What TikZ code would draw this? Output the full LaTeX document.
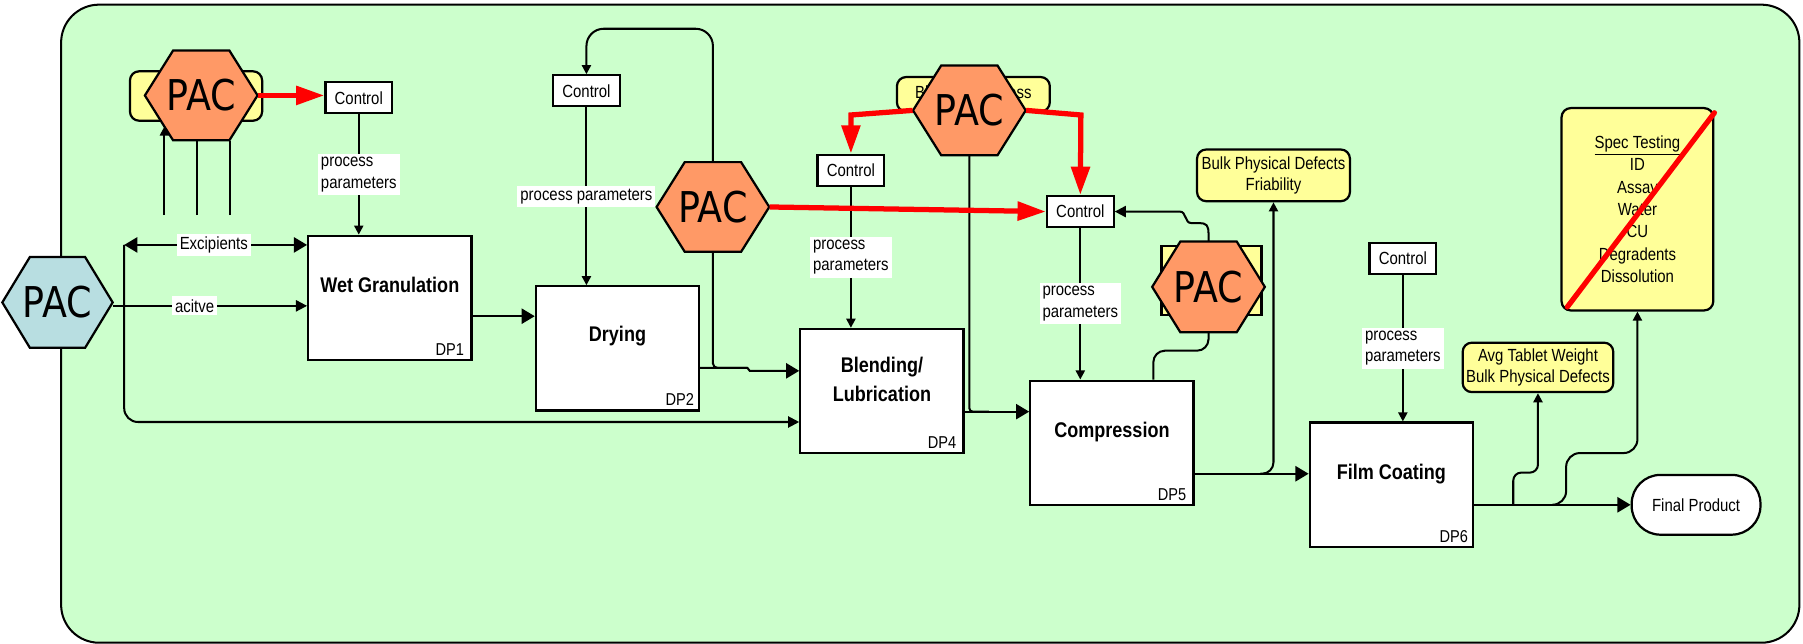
\documentclass[tikz,border=0pt]{standalone}
\usepackage{fontspec}
\setmainfont{Liberation Sans}[FakeStretch=0.85]
\newfontfamily\pacfont{DejaVu Sans}[FakeStretch=0.86]
\usetikzlibrary{arrows.meta,calc}

\definecolor{bggreen}{HTML}{CCFFCC}
\definecolor{pacorange}{HTML}{FF9966}
\definecolor{pacblue}{HTML}{B8DEE1}
\definecolor{noteyellow}{HTML}{FFFF99}

\tikzset{
  bigtip/.tip={Triangle[length=6.5pt,width=7.5pt]},
  midtip/.tip={Triangle[length=5.5pt,width=5.5pt]},
  smalltip/.tip={Triangle[length=4.5pt,width=4.5pt]},
  conn/.style={draw=black, line width=1pt},
  frame/.style={draw, line width=1pt, fill=bggreen, rounded corners=0.66cm,
    minimum width=30.24cm, minimum height=11.1cm, inner sep=0pt},
  ctrl/.style={draw, line width=1.1pt, fill=white, minimum width=1.16cm,
    minimum height=0.54cm, inner sep=0pt, font=\fontsize{8.7}{10.5}\selectfont},
  procbox/.style={draw, line width=1.1pt, fill=white, minimum width=2.84cm,
    minimum height=2.16cm, inner sep=0pt},
  proctext/.style={font=\bfseries\fontsize{10.5}{14.8}\selectfont, align=center, inner sep=0pt},
  dptext/.style={font=\fontsize{8.5}{10}\selectfont, anchor=base east, inner sep=0pt},
  lbl/.style={fill=white, inner sep=1.5pt, font=\fontsize{8.7}{10.7}\selectfont, align=left},
  note/.style={draw, line width=1.1pt, fill=noteyellow, rounded corners=0.16cm,
    align=center, inner sep=0pt, font=\fontsize{8.7}{10.5}\selectfont},
  pacnode/.style={inner sep=0pt, font=\pacfont\fontsize{21}{21}\selectfont},
  pacarrow/.style={draw=red, line width=2.6pt, -{Triangle[length=14pt,width=9pt]}},
}

% flat-topped hexagon with a PAC label: name, x, y, half width, half height, fill
\newcommand\pachexagon[6]{%
  \filldraw[line width=1.1pt, fill=#6]
    (#2-#4,#3) -- (#2-#4/2,#3+#5) -- (#2+#4/2,#3+#5) -- (#2+#4,#3)
    -- (#2+#4/2,#3-#5) -- (#2-#4/2,#3-#5) -- cycle;
  \pgfmathsetmacro\hexw{0.04*#4}%
  \pgfmathsetmacro\hexh{0.04*#5}%
  \node[pacnode, minimum width=\hexw cm, minimum height=\hexh cm] (#1) at (#2,#3) {PAC};
}

\begin{document}
\begin{tikzpicture}[x=0.02cm, y=-0.02cm]
\useasboundingbox (0,0) rectangle (1568,560);

% process area
\node[frame] (frame) at (809,281.5) {};

% notes sitting behind the PAC hexagons
\node[note, minimum width=2.3cm, minimum height=0.86cm] (n1) at (170.5,83.5) {};
\node[note, minimum width=2.66cm, minimum height=0.6cm] (n3) at (846.5,82) {Blending Process};
\node[note, rounded corners=0pt, minimum width=1.74cm, minimum height=1.2cm] (n4) at (1053.5,244) {};

% PAC hexagons
\pachexagon{pac0}{50}{263}{48}{39.5}{pacblue}
\pachexagon{pac1}{175}{83}{49}{39}{pacorange}
\pachexagon{pac2}{620}{180}{49}{39}{pacorange}
\pachexagon{pac3}{843}{96}{49}{39}{pacorange}
\pachexagon{pac4}{1051}{249.5}{49}{39.5}{pacorange}

% control boxes
\node[ctrl] (c1) at (312,85) {Control};
\node[ctrl] (c2) at (510,79) {Control};
\node[ctrl] (c3) at (740,148) {Control};
\node[ctrl] (c4) at (939.5,184) {Control};
\node[ctrl] (c5) at (1220,224.5) {Control};

% unit operations
\node[procbox] (wg) at (339,259) {};
\node[procbox] (dry) at (537,303) {};
\node[procbox] (blend) at (767,340) {};
\node[procbox] (comp) at (967,385) {};
\node[procbox] (film) at (1210,421.5) {};

\node[proctext] (wgt) at (339,248) {Wet Granulation};
\node[proctext] (dryt) at (537,292) {Drying};
\node[proctext] (blendt) at (767,330) {Blending/\\Lubrication};
\node[proctext] (compt) at (967,376) {Compression};
\node[proctext] (filmt) at (1210,412) {Film Coating};

\node[dptext] (dp1) at ($(wg.south east)+(-7,-5)$) {DP1};
\node[dptext] (dp2) at ($(dry.south east)+(-5,-5)$) {DP2};
\node[dptext] (dp4) at ($(blend.south east)+(-7,-5)$) {DP4};
\node[dptext] (dp5) at ($(comp.south east)+(-7,-5)$) {DP5};
\node[dptext] (dp6) at ($(film.south east)+(-5,-5)$) {DP6};

% measured attributes and product
\node[note, minimum width=2.66cm, minimum height=0.9cm] (bpd) at (1107.5,152.5)
  {Bulk Physical Defects\\Friability};
\node[note, minimum width=2.62cm, minimum height=0.86cm] (avg) at (1337.5,319.5)
  {Avg Tablet Weight\\Bulk Physical Defects};
\node[note, minimum width=2.64cm, minimum height=3.52cm, font=\fontsize{8.7}{11.1}\selectfont]
  (spec) at (1424,182)
  {\underline{Spec Testing}\\ID\\Assay\\Water\\CU\\Degradents\\Dissolution};
\node[draw, line width=1.1pt, fill=white, rounded corners=0.5cm, minimum width=2.24cm,
  minimum height=1.04cm, inner sep=0pt, font=\fontsize{8.7}{10.5}\selectfont]
  (final) at (1475,439) {Final Product};

% helper points for connector routes
\coordinate (exTop) at (108,213);
\coordinate (exBot) at (108,367);
\coordinate (e1) at (143,187);
\coordinate (e2) at (171,187);
\coordinate (e3) at (200,187);
\coordinate (p1edge) at (143,110);
\coordinate (act) at (0,266);
\coordinate (wd) at (0,275);
\coordinate (top) at (0,25);
\coordinate (db1) at (650,320);
\coordinate (db2) at (652,322.5);
\coordinate (r3l) at (740,100);
\coordinate (r3r) at (940,100);
\coordinate (bcj) at (860,358);
\coordinate (k1) at (1003,305);
\coordinate (k2) at (1036,194);
\coordinate (k3) at (1026,184);
\coordinate (cf) at (0,412);
\coordinate (cfj) at (1096,412);
\coordinate (ff) at (0,439);
\coordinate (fa) at (1316,439);
\coordinate (fa2) at (1316,411);
\coordinate (fs) at (1350,439);
\coordinate (fs2) at (1362,394);

% raw material feeds
\draw[conn, -{smalltip}] (e1) -- (p1edge);
\draw[conn] (e2) -- (e2 |- pac1.south);
\draw[conn] (e3) -- (e3 |- pac1.south);
\draw[conn, {bigtip}-{bigtip}] (exTop) -- node[lbl, pos=0.49] (exl) {Excipients} (exTop -| wg.west);
\draw[conn, rounded corners=0.24cm, -{midtip}] (exTop) -- (exBot) -- (exBot -| blend.west);
\draw[conn, -{midtip}] (pac0.east |- act) -- node[lbl, pos=0.42] (actl) {acitve} (act -| wg.west);

% main process flow
\draw[conn, -{bigtip}] (wd -| wg.east) -- (wd -| dry.west);
\draw[conn, -{bigtip}] (dry.east |- db1) -- (db1) -- (db2) -- (db2 -| blend.west);
\draw[conn, -{bigtip}] (blend.east |- bcj) -- (bcj -| comp.west);
\draw[conn, -{bigtip}] (comp.east |- cf) -- (cf -| film.west);
\draw[conn, -{bigtip}] (film.east |- ff) -- (ff -| final.west);

% control inputs
\draw[conn, -{smalltip}] (c1.south) -- node[lbl] (pp1) {process\\parameters} (c1.south |- wg.north);
\draw[conn, -{smalltip}] (c2.south) -- node[lbl] (pp2) {process parameters} (c2.south |- dry.north);
\draw[conn, -{smalltip}] (c3.south) -- node[lbl] (pp3) {process\\parameters} (c3.south |- blend.north);
\draw[conn, -{smalltip}] (c4.south) -- node[lbl] (pp4) {process\\parameters} (c4.south |- comp.north);
\draw[conn, -{smalltip}] (c5.south) -- node[lbl] (pp5) {process\\parameters} (c5.south |- film.north);

% feedback loops through the PAC measurements
\draw[conn, rounded corners=0.3cm, -{smalltip}] (pac2.north) -- (pac2.north |- top) -- (c2.north |- top) -- (c2.north);
\draw[conn, rounded corners=0.08cm] (pac2.south) |- (db1);
\draw[conn, rounded corners=0.06cm] (pac3.south) |- (bcj);
\draw[conn, rounded corners=0.2cm] (comp.north -| k1) |- (pac4.south |- k1) -- (pac4.south);
\draw[conn, -{midtip}] (pac4.north) -- (1051,203)
  .. controls (1051,196) and (1049,194) .. (1043,194) -- (k2)
  .. controls (1030,194) and (1032,184) .. (k3) -- (c4.east |- k3);

% in-process and release testing
\draw[conn, rounded corners=0.2cm, -{smalltip}] (cfj) -| (bpd.south);
\draw[conn, rounded corners=0.14cm, -{smalltip}] (fa) -- (fa2) -| (avg.south);
\draw[conn, rounded corners=0.24cm, -{smalltip}] (fs) -| (fs2) -| (spec.south);

% PAC driven control actions
\draw[pacarrow] (pac1.east) -- (pac1.east -| c1.west);
\draw[pacarrow] (pac2.east) -- (c4.west);
\draw[pacarrow] (pac3.west) -- (r3l) -- (c3.north);
\draw[pacarrow] (pac3.east) -- (r3r) -- (c4.north);

% end-product testing struck out
\draw[red, line width=2.6pt, line cap=round]
  ($(spec.south west)+(6,-4)$) -- ($(spec.north east)+(0,5)$);
\end{tikzpicture}
\end{document}
